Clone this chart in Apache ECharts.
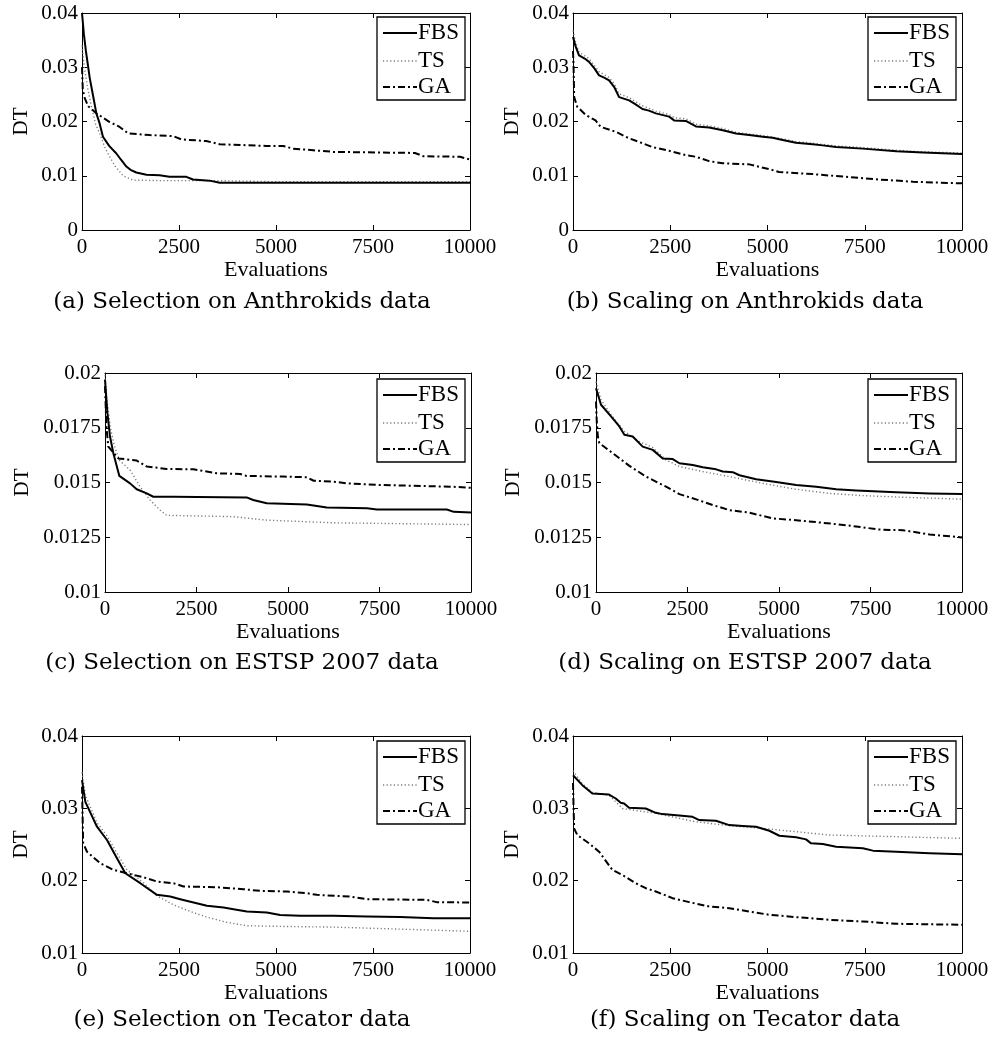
<!DOCTYPE html>
<html>
<head>
<meta charset="utf-8">
<script src="https://cdn.jsdelivr.net/npm/echarts@6/dist/echarts.min.js"></script>
<style>
html,body{margin:0;padding:0;background:#fff;}
#chart{width:996px;height:1045px;}
</style>
</head>
<body>
<div id="chart"></div>
<script>
// ---------- data ----------
const seriesNames = ['FBS', 'TS', 'GA'];
const xTickLabels = ['0', '2500', '5000', '7500', '10000'];
const yTicksA = ['0', '0.01', '0.02', '0.03', '0.04'];
const yTicksC = ['0.01', '0.0125', '0.015', '0.0175', '0.02'];
const yTicksE = ['0.01', '0.02', '0.03', '0.04'];
const captions = [
  '(a) Selection on Anthrokids data',
  '(b) Scaling on Anthrokids data',
  '(c) Selection on ESTSP 2007 data',
  '(d) Scaling on ESTSP 2007 data',
  '(e) Selection on Tecator data',
  '(f) Scaling on Tecator data'
];

// (a) Selection on Anthrokids
const aFBS = [[0,0.040],[50,0.036],[100,0.033],[200,0.028],[300,0.0242],[370,0.0215],[456,0.0196],[540,0.0172],[700,0.0155],[886,0.0141],[1000,0.0130],[1144,0.0117],[1250,0.0111],[1400,0.0106],[1660,0.0102],[2000,0.0101],[2250,0.0098],[2690,0.0098],[2860,0.0093],[3290,0.0091],[3550,0.0087],[10000,0.0087]];
const aTS = [[0,0.0340],[60,0.030],[150,0.026],[250,0.0225],[350,0.0195],[456,0.0178],[600,0.0150],[714,0.0135],[850,0.0118],[1058,0.0100],[1316,0.0092],[2000,0.0091],[3500,0.0091],[5000,0.0089],[10000,0.0089]];
const aGA = [[0,0.0300],[20,0.0260],[60,0.0245],[160,0.0228],[370,0.0215],[714,0.0199],[970,0.0190],[1190,0.0178],[1750,0.0175],[2350,0.0173],[2560,0.0167],[3200,0.0164],[3550,0.0158],[4750,0.0155],[5180,0.0155],[5440,0.0150],[5960,0.0147],[6475,0.0144],[8580,0.0142],[8800,0.0136],[9740,0.0135],[10000,0.0130]];

// (b) Scaling on Anthrokids
const bFBS = [[0,0.0356],[60,0.0340],[155,0.0322],[300,0.0316],[412,0.0310],[550,0.0298],[670,0.0285],[800,0.0281],[927,0.0276],[1056,0.0264],[1185,0.0245],[1442,0.0239],[1600,0.0232],[1785,0.0223],[1950,0.0220],[2130,0.0215],[2470,0.0209],[2600,0.0202],[2900,0.0201],[3160,0.0191],[3500,0.0189],[3850,0.0184],[4190,0.0178],[4530,0.0175],[4880,0.0172],[5130,0.0170],[5390,0.0166],[5730,0.0161],[6160,0.0158],[6420,0.0156],[6760,0.0153],[7450,0.0150],[8310,0.0145],[9000,0.0143],[10000,0.0140]];
const bTS = [[0,0.0368],[60,0.0348],[155,0.0328],[412,0.0316],[670,0.0292],[927,0.0281],[1056,0.0270],[1185,0.0251],[1442,0.0244],[1785,0.0229],[2130,0.0219],[2470,0.0213],[2600,0.0207],[2900,0.0205],[3160,0.0195],[3500,0.0192],[3850,0.0187],[4190,0.0180],[4530,0.0177],[4880,0.0174],[5390,0.0168],[5730,0.0163],[6160,0.0160],[6760,0.0155],[7450,0.0152],[8310,0.0147],[9000,0.0144],[10000,0.0142]];
const bGA = [[0,0.0330],[15,0.0300],[30,0.0245],[110,0.0227],[330,0.0212],[580,0.0202],[710,0.0190],[1100,0.0181],[1440,0.0169],[1785,0.0160],[2040,0.0153],[2470,0.0146],[2900,0.0138],[3160,0.0135],[3500,0.0127],[3850,0.0123],[4530,0.0121],[5050,0.0112],[5300,0.0107],[6160,0.0103],[7020,0.0098],[7880,0.0093],[8740,0.0089],[10000,0.0086]];

// (c) Selection on ESTSP 2007
const cFBS = [[0,0.0197],[64,0.0182],[137,0.0171],[228,0.01634],[392,0.0153],[684,0.01496],[866,0.01469],[1140,0.0145],[1320,0.01435],[1870,0.01435],[3870,0.01432],[4050,0.0142],[4420,0.01405],[5515,0.0140],[6060,0.01386],[7160,0.01382],[7430,0.01377],[9340,0.01377],[9530,0.01366],[10000,0.01363]];
const cTS = [[0,0.0199],[50,0.0188],[150,0.0175],[250,0.0167],[400,0.0160],[684,0.01557],[957,0.01481],[1230,0.0142],[1504,0.01374],[1686,0.0135],[3510,0.01344],[4420,0.01328],[6240,0.01316],[10000,0.01308]];
const cGA = [[0,0.0194],[40,0.0175],[91,0.01664],[365,0.0161],[866,0.0160],[1140,0.01573],[1686,0.01562],[2416,0.0156],[2780,0.0155],[3054,0.01542],[3690,0.01539],[3870,0.0153],[4877,0.01527],[5515,0.01524],[5700,0.01508],[6240,0.01504],[6600,0.01496],[7430,0.01489],[9430,0.01481],[10000,0.01476]];

// (d) Scaling on ESTSP 2007
const dFBS = [[0,0.0193],[137,0.01855],[410,0.01802],[638,0.01756],[775,0.01718],[1003,0.0171],[1276,0.01664],[1550,0.01649],[1823,0.0161],[2097,0.01607],[2279,0.01588],[2644,0.0158],[2917,0.0157],[3282,0.0156],[3464,0.0155],[3737,0.01547],[3920,0.01533],[4376,0.01515],[4923,0.01502],[5470,0.01489],[6017,0.01481],[6563,0.01469],[7110,0.01464],[8204,0.01455],[9116,0.0145],[10000,0.01447]];
const dTS = [[0,0.0196],[137,0.01878],[410,0.0181],[775,0.01733],[1185,0.01687],[1550,0.0166],[1914,0.01603],[2279,0.01573],[2917,0.0155],[3646,0.01527],[4558,0.01496],[5470,0.01469],[6380,0.0145],[7292,0.0144],[8660,0.01431],[10000,0.01424]];
const dGA = [[0,0.0187],[20,0.0178],[50,0.0171],[91,0.0168],[456,0.01634],[912,0.01576],[1368,0.01527],[1914,0.01481],[2279,0.01447],[2735,0.01423],[3190,0.01397],[3646,0.01374],[4193,0.01362],[4832,0.01336],[5470,0.01328],[6199,0.01316],[6837,0.01305],[7292,0.01295],[7748,0.01285],[8386,0.01282],[9116,0.01263],[10000,0.01249]];

// (e) Selection on Tecator
const eFBS = [[0,0.0339],[86,0.0309],[386,0.02746],[644,0.02562],[901,0.0231],[1116,0.02102],[1502,0.01965],[1931,0.01804],[2275,0.01781],[2532,0.01744],[2876,0.01698],[3219,0.01652],[3648,0.01629],[3906,0.01606],[4249,0.01574],[4764,0.0156],[5107,0.01524],[5622,0.01514],[6480,0.01514],[7339,0.01505],[8197,0.01496],[9056,0.01482],[10000,0.01482]];
const eTS = [[0,0.0350],[86,0.0318],[386,0.0280],[644,0.0262],[901,0.0238],[1159,0.02148],[1588,0.0197],[1931,0.0179],[2360,0.01666],[2790,0.01574],[3219,0.01496],[3734,0.01423],[4249,0.01377],[5193,0.01367],[6480,0.01358],[8197,0.0133],[10000,0.0130]];
const eGA = [[0,0.0330],[15,0.0290],[30,0.0252],[129,0.0240],[472,0.0224],[815,0.02148],[1159,0.02102],[1588,0.02047],[1931,0.01988],[2360,0.01965],[2618,0.01919],[3476,0.0191],[4163,0.01882],[4592,0.01859],[5279,0.0185],[5794,0.01827],[6052,0.01804],[6910,0.01781],[7339,0.01744],[8884,0.01735],[9142,0.01703],[10000,0.01698]];

// (f) Scaling on Tecator
const fFBS = [[0,0.03458],[240,0.0332],[498,0.03205],[927,0.03191],[1099,0.03136],[1227,0.03076],[1313,0.03067],[1442,0.03007],[1871,0.02998],[2129,0.02938],[2300,0.0292],[2730,0.02902],[3073,0.02883],[3245,0.02837],[3674,0.02828],[4017,0.02768],[4361,0.02755],[4704,0.02746],[5047,0.0269],[5305,0.02621],[5734,0.02599],[5991,0.02571],[6120,0.02516],[6421,0.02507],[6764,0.0247],[7451,0.02447],[7708,0.02415],[8309,0.02401],[9167,0.02378],[10000,0.02364]];
const fTS = [[0,0.0352],[240,0.0334],[498,0.0322],[927,0.0318],[1270,0.02998],[2129,0.0293],[3159,0.02814],[4017,0.0276],[4876,0.02723],[5734,0.02677],[6592,0.02631],[8309,0.02608],[10000,0.02585]];
const fGA = [[0,0.0335],[15,0.0300],[30,0.0272],[112,0.02631],[412,0.02516],[670,0.02401],[1013,0.02148],[1270,0.02079],[1614,0.01965],[1871,0.01896],[2129,0.0185],[2558,0.01758],[2987,0.01703],[3502,0.01643],[4017,0.0162],[4532,0.01574],[5047,0.01528],[5734,0.01496],[6592,0.01459],[7451,0.01436],[8309,0.01404],[10000,0.0139]];

// ---------- layout / styling ----------
const panels = [
  { data: [aFBS, aTS, aGA], yMin: 0,    yMax: 0.04, yInt: 0.01,   yLabels: yTicksA, grid: {left: 82,  top: 13,  width: 388, height: 217}, legend: {left: 377, top: 17},  cap: {x: 242, y: 302} },
  { data: [bFBS, bTS, bGA], yMin: 0,    yMax: 0.04, yInt: 0.01,   yLabels: yTicksA, grid: {left: 573, top: 13,  width: 389, height: 217}, legend: {left: 868, top: 17},  cap: {x: 745, y: 302} },
  { data: [cFBS, cTS, cGA], yMin: 0.01, yMax: 0.02, yInt: 0.0025, yLabels: yTicksC, grid: {left: 105, top: 373, width: 366, height: 219}, legend: {left: 377, top: 379}, cap: {x: 242, y: 663} },
  { data: [dFBS, dTS, dGA], yMin: 0.01, yMax: 0.02, yInt: 0.0025, yLabels: yTicksC, grid: {left: 596, top: 373, width: 366, height: 219}, legend: {left: 868, top: 379}, cap: {x: 745, y: 663} },
  { data: [eFBS, eTS, eGA], yMin: 0.01, yMax: 0.04, yInt: 0.01,   yLabels: yTicksE, grid: {left: 82,  top: 736, width: 388, height: 217}, legend: {left: 377, top: 741}, cap: {x: 242, y: 1020} },
  { data: [fFBS, fTS, fGA], yMin: 0.01, yMax: 0.04, yInt: 0.01,   yLabels: yTicksE, grid: {left: 573, top: 736, width: 389, height: 217}, legend: {left: 868, top: 741}, cap: {x: 745, y: 1020} }
];

const lineStyles = [
  { color: '#000000', width: 2,   type: 'solid' },
  { color: '#7a7a7a', width: 1.4, type: [1.2, 2.4] },
  { color: '#000000', width: 2,   type: [7, 3, 2, 3] }
];

const FONT = 'Liberation Serif';
const grids = [], xAxes = [], yAxes = [], series = [], graphics = [];

panels.forEach((p, i) => {
  grids.push(Object.assign({ containLabel: false }, p.grid));
  const axisLine = { show: true, onZero: false, lineStyle: { color: '#000', width: 1 } };
  const tick = { show: true, inside: true, length: 5, lineStyle: { color: '#000', width: 1 } };
  xAxes.push({
    type: 'value', gridIndex: i, position: 'bottom', min: 0, max: 10000, interval: 2500,
    axisLine, axisTick: tick, splitLine: { show: false },
    axisLabel: { show: true, margin: 7, color: '#000', fontFamily: FONT, fontSize: 21,
      formatter: v => xTickLabels[Math.round(v / 2500)] },
    name: 'Evaluations', nameLocation: 'middle', nameGap: 27,
    nameTextStyle: { color: '#000', fontFamily: FONT, fontSize: 22 }
  });
  xAxes.push({
    type: 'value', gridIndex: i, position: 'top', min: 0, max: 10000, interval: 2500,
    axisLine, axisTick: tick, splitLine: { show: false }, axisLabel: { show: false }
  });
  yAxes.push({
    type: 'value', gridIndex: i, position: 'left', min: p.yMin, max: p.yMax, interval: p.yInt,
    axisLine, axisTick: tick, splitLine: { show: false },
    axisLabel: { show: true, margin: 4, color: '#000', fontFamily: FONT, fontSize: 21,
      formatter: v => p.yLabels[Math.round((v - p.yMin) / p.yInt)] },
    name: 'DT', nameLocation: 'middle', nameGap: (i === 2 || i === 3) ? 72 : 50,
    nameTextStyle: { color: '#000', fontFamily: FONT, fontSize: 21 }
  });
  yAxes.push({
    type: 'value', gridIndex: i, position: 'right', min: p.yMin, max: p.yMax, interval: p.yInt,
    axisLine, axisTick: tick, splitLine: { show: false }, axisLabel: { show: false }
  });

  p.data.forEach((d, k) => {
    series.push({
      name: seriesNames[k], type: 'line', xAxisIndex: 2 * i, yAxisIndex: 2 * i,
      data: d, symbol: 'none', showSymbol: false, smooth: false, animation: false,
      lineStyle: Object.assign({ cap: 'butt', join: 'round' }, lineStyles[k]),
      itemStyle: { color: lineStyles[k].color },
      z: k === 0 ? 4 : (k === 2 ? 3 : 2)
    });
  });

  // legend box (drawn as graphic decoration)
  const L = p.legend;
  const legendChildren = [
    { type: 'rect', shape: { x: 0, y: 0, width: 88, height: 83 },
      style: { fill: '#fff', stroke: '#000', lineWidth: 1.3 } }
  ];
  const rowY = [16, 44, 70];
  seriesNames.forEach((n, k) => {
    const ls = lineStyles[k];
    legendChildren.push({
      type: 'line', shape: { x1: 6, y1: rowY[k], x2: 40, y2: rowY[k] },
      style: { stroke: ls.color, lineWidth: ls.width, lineDash: Array.isArray(ls.type) ? ls.type : null, lineCap: 'butt' }
    });
    legendChildren.push({
      type: 'text', x: 41, y: rowY[k],
      style: { text: n, font: '23px "Liberation Serif"', fill: '#000',
        align: 'left', verticalAlign: 'middle', textAlign: 'left', textVerticalAlign: 'middle' }
    });
  });
  graphics.push({ type: 'group', x: L.left, y: L.top, z: 100, children: legendChildren });

  graphics.push({
    type: 'text', x: p.cap.x, y: p.cap.y,
    style: { text: captions[i], font: '23px "DejaVu Serif"', fill: '#000',
      align: 'center', verticalAlign: 'middle', textAlign: 'center', textVerticalAlign: 'middle' }
  });
});

const chart = echarts.init(document.getElementById('chart'), null, { renderer: 'canvas' });
chart.setOption({
  backgroundColor: '#fff',
  animation: false,
  grid: grids,
  xAxis: xAxes,
  yAxis: yAxes,
  series: series,
  graphic: graphics
});
</script>
</body>
</html>
